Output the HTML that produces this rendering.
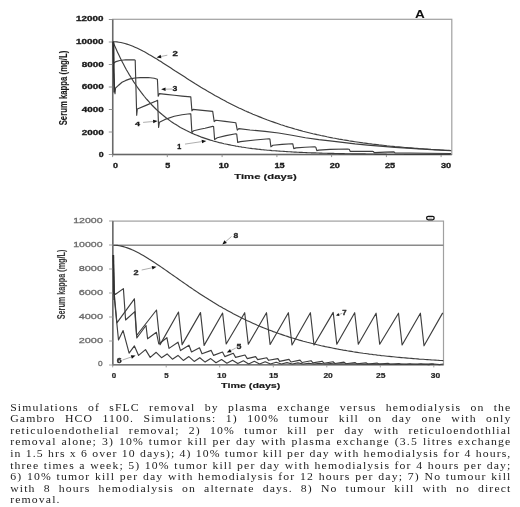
<!DOCTYPE html>
<html><head><meta charset="utf-8"><style>
html,body{margin:0;padding:0;background:#fff;}
body{width:520px;height:507px;overflow:hidden;}
svg{display:block;filter:blur(0.35px);}
.cap text{font-family:"Liberation Serif",serif;font-size:9.5px;fill:#1c1c1c;stroke:none;}
</style></head><body>
<svg width="520" height="507" viewBox="0 0 520 507">
<rect width="520" height="507" fill="#fff"/>
<rect x="112.7" y="19.3" width="339.1" height="135.2" fill="none" stroke="#a0a0a0" stroke-width="1.2"/>
<line x1="112.7" y1="19.3" x2="112.7" y2="155.1" stroke="#6a6a6a" stroke-width="1.5"/>
<line x1="112.10000000000001" y1="154.5" x2="451.8" y2="154.5" stroke="#666" stroke-width="1.4"/>
<line x1="108.8" y1="154.5" x2="112.7" y2="154.5" stroke="#888" stroke-width="0.9"/>
<line x1="108.8" y1="132.0" x2="112.7" y2="132.0" stroke="#888" stroke-width="0.9"/>
<line x1="108.8" y1="109.5" x2="112.7" y2="109.5" stroke="#888" stroke-width="0.9"/>
<line x1="108.8" y1="87.0" x2="112.7" y2="87.0" stroke="#888" stroke-width="0.9"/>
<line x1="108.8" y1="64.5" x2="112.7" y2="64.5" stroke="#888" stroke-width="0.9"/>
<line x1="108.8" y1="42.0" x2="112.7" y2="42.0" stroke="#888" stroke-width="0.9"/>
<line x1="108.8" y1="19.5" x2="112.7" y2="19.5" stroke="#888" stroke-width="0.9"/>
<line x1="112.6" y1="154.5" x2="112.6" y2="157.1" stroke="#888" stroke-width="0.9"/>
<line x1="167.3" y1="154.5" x2="167.3" y2="157.1" stroke="#888" stroke-width="0.9"/>
<line x1="222.1" y1="154.5" x2="222.1" y2="157.1" stroke="#888" stroke-width="0.9"/>
<line x1="276.9" y1="154.5" x2="276.9" y2="157.1" stroke="#888" stroke-width="0.9"/>
<line x1="331.6" y1="154.5" x2="331.6" y2="157.1" stroke="#888" stroke-width="0.9"/>
<line x1="386.4" y1="154.5" x2="386.4" y2="157.1" stroke="#888" stroke-width="0.9"/>
<line x1="441.1" y1="154.5" x2="441.1" y2="157.1" stroke="#888" stroke-width="0.9"/>
<text transform="translate(76.10,21.23) scale(1.448,1)" font-family="Liberation Sans" font-weight="bold" font-size="6.78" fill="#1a1a1a" stroke="#1a1a1a" stroke-width="0.3">12000</text>
<text transform="translate(76.10,43.91) scale(1.448,1)" font-family="Liberation Sans" font-weight="bold" font-size="6.78" fill="#1a1a1a" stroke="#1a1a1a" stroke-width="0.3">10000</text>
<text transform="translate(81.70,66.59) scale(1.458,1)" font-family="Liberation Sans" font-weight="bold" font-size="6.78" fill="#1a1a1a" stroke="#1a1a1a" stroke-width="0.3">8000</text>
<text transform="translate(81.70,89.27) scale(1.458,1)" font-family="Liberation Sans" font-weight="bold" font-size="6.78" fill="#1a1a1a" stroke="#1a1a1a" stroke-width="0.3">6000</text>
<text transform="translate(81.70,111.95) scale(1.458,1)" font-family="Liberation Sans" font-weight="bold" font-size="6.78" fill="#1a1a1a" stroke="#1a1a1a" stroke-width="0.3">4000</text>
<text transform="translate(81.70,134.63) scale(1.458,1)" font-family="Liberation Sans" font-weight="bold" font-size="6.78" fill="#1a1a1a" stroke="#1a1a1a" stroke-width="0.3">2000</text>
<text transform="translate(98.80,157.31) scale(1.300,1)" font-family="Liberation Sans" font-weight="bold" font-size="6.78" fill="#1a1a1a" stroke="#1a1a1a" stroke-width="0.3">0</text>
<text transform="translate(112.90,167.63) scale(1.326,1)" font-family="Liberation Sans" font-weight="bold" font-size="6.78" fill="#1a1a1a" stroke="#1a1a1a" stroke-width="0.3">0</text>
<text transform="translate(165.20,167.63) scale(1.308,1)" font-family="Liberation Sans" font-weight="bold" font-size="6.88" fill="#1a1a1a" stroke="#1a1a1a" stroke-width="0.3">5</text>
<text transform="translate(218.70,167.63) scale(1.353,1)" font-family="Liberation Sans" font-weight="bold" font-size="6.78" fill="#1a1a1a" stroke="#1a1a1a" stroke-width="0.3">10</text>
<text transform="translate(274.40,167.63) scale(1.334,1)" font-family="Liberation Sans" font-weight="bold" font-size="6.88" fill="#1a1a1a" stroke="#1a1a1a" stroke-width="0.3">15</text>
<text transform="translate(329.70,167.63) scale(1.353,1)" font-family="Liberation Sans" font-weight="bold" font-size="6.78" fill="#1a1a1a" stroke="#1a1a1a" stroke-width="0.3">20</text>
<text transform="translate(384.90,167.63) scale(1.353,1)" font-family="Liberation Sans" font-weight="bold" font-size="6.78" fill="#1a1a1a" stroke="#1a1a1a" stroke-width="0.3">25</text>
<text transform="translate(440.90,167.63) scale(1.355,1)" font-family="Liberation Sans" font-weight="bold" font-size="6.77" fill="#1a1a1a" stroke="#1a1a1a" stroke-width="0.3">30</text>
<text transform="translate(234.30,179.37) scale(1.444,1)" font-family="Liberation Sans" font-weight="bold" font-size="7.82" fill="#1a1a1a" stroke="#1a1a1a" stroke-width="0.15">Time (days)</text>
<text transform="translate(67.37,125.30) rotate(-90) scale(0.707,1)" font-family="Liberation Sans" font-weight="bold" font-size="10.99" fill="#1a1a1a" stroke="#1a1a1a" stroke-width="0.1">Serum kappa (mg/L)</text>
<text transform="translate(414.90,17.50) scale(1.229,1)" font-family="Liberation Sans" font-weight="bold" font-size="11.05" fill="#111">A</text>
<polyline points="112.9,41.7 114.9,41.8 116.9,41.9 118.9,42.2 120.9,42.5 122.9,43.0 124.9,43.5 126.9,44.1 128.9,44.8 130.9,45.5 132.9,46.3 134.9,47.2 136.9,48.1 138.9,49.0 140.9,50.0 142.9,51.1 144.9,52.1 146.9,53.2 148.9,54.4 150.9,55.5 152.9,56.7 154.9,57.9 156.9,59.1 158.9,60.4 160.9,61.6 162.9,62.9 164.9,64.2 166.9,65.5 168.9,66.8 170.9,68.1 172.9,69.4 174.9,70.7 176.9,71.9 178.9,73.2 180.9,74.5 182.9,75.8 184.9,77.1 186.9,78.4 188.9,79.7 190.9,80.9 192.9,82.2 194.9,83.5 196.9,84.7 198.9,85.9 200.9,87.2 202.9,88.4 204.9,89.6 206.9,90.8 208.9,91.9 210.9,93.1 212.9,94.2 214.9,95.4 216.9,96.5 218.9,97.6 220.9,98.7 222.9,99.8 224.9,100.8 226.9,101.9 228.9,102.9 230.9,103.9 232.9,104.9 234.9,105.9 236.9,106.9 238.9,107.9 240.9,108.8 242.9,109.7 244.9,110.7 246.9,111.6 248.9,112.4 250.9,113.3 252.9,114.2 254.9,115.0 256.9,115.8 258.9,116.6 260.9,117.4 262.9,118.2 264.9,119.0 266.9,119.8 268.9,120.5 270.9,121.2 272.9,121.9 274.9,122.6 276.9,123.3 278.9,124.0 280.9,124.7 282.9,125.3 284.9,126.0 286.9,126.6 288.9,127.2 290.9,127.8 292.9,128.4 294.9,129.0 296.9,129.5 298.9,130.1 300.9,130.6 302.9,131.2 304.9,131.7 306.9,132.2 308.9,132.7 310.9,133.2 312.9,133.7 314.9,134.1 316.9,134.6 318.9,135.0 320.9,135.5 322.9,135.9 324.9,136.3 326.9,136.8 328.9,137.2 330.9,137.6 332.9,138.0 334.9,138.3 336.9,138.7 338.9,139.1 340.9,139.4 342.9,139.8 344.9,140.1 346.9,140.4 348.9,140.8 350.9,141.1 352.9,141.4 354.9,141.7 356.9,142.0 358.9,142.3 360.9,142.6 362.9,142.9 364.9,143.1 366.9,143.4 368.9,143.7 370.9,143.9 372.9,144.2 374.9,144.4 376.9,144.6 378.9,144.9 380.9,145.1 382.9,145.3 384.9,145.5 386.9,145.8 388.9,146.0 390.9,146.2 392.9,146.4 394.9,146.6 396.9,146.7 398.9,146.9 400.9,147.1 402.9,147.3 404.9,147.5 406.9,147.6 408.9,147.8 410.9,147.9 412.9,148.1 414.9,148.3 416.9,148.4 418.9,148.6 420.9,148.7 422.9,148.8 424.9,149.0 426.9,149.1 428.9,149.2 430.9,149.4 432.9,149.5 434.9,149.6 436.9,149.7 438.9,149.8 440.9,150.0 442.9,150.1 444.9,150.2 446.9,150.3 448.9,150.4 450.9,150.5" fill="none" stroke="#3e3e3e" stroke-width="1.15" stroke-linejoin="round" />
<polyline points="112.9,41.7 114.4,45.2 115.9,48.6 117.4,51.9 118.9,55.1 120.4,58.2 121.9,61.2 123.4,64.1 124.9,66.9 126.4,69.7 127.9,72.3 129.4,74.9 130.9,77.3 132.4,79.7 133.9,82.1 135.4,84.3 136.9,86.5 138.4,88.6 139.9,90.7 141.4,92.7 142.9,94.6 144.4,96.5 145.9,98.3 147.4,100.0 148.9,101.7 150.4,103.4 151.9,105.0 153.4,106.5 154.9,108.0 156.4,109.5 157.9,110.9 159.4,112.2 160.9,113.5 162.4,114.8 163.9,116.0 165.4,117.2 166.9,118.4 168.4,119.5 169.9,120.6 171.4,121.7 172.9,122.7 174.4,123.7 175.9,124.6 177.4,125.6 178.9,126.5 180.4,127.4 181.9,128.2 183.4,129.0 184.9,129.8 186.4,130.6 187.9,131.3 189.4,132.0 190.9,132.7 192.4,133.4 193.9,134.1 195.4,134.7 196.9,135.3 198.4,135.9 199.9,136.5 201.4,137.1 202.9,137.6 204.4,138.1 205.9,138.6 207.4,139.1 208.9,139.6 210.4,140.1 211.9,140.5 213.4,141.0 214.9,141.4 216.4,141.8 217.9,142.2 219.4,142.6 220.9,142.9 222.4,143.3 223.9,143.7 225.4,144.0 226.9,144.3 228.4,144.6 229.9,144.9 231.4,145.2 232.9,145.5 234.4,145.8 235.9,146.1 237.4,146.3 238.9,146.6 240.4,146.8 241.9,147.1 243.4,147.3 244.9,147.5 246.4,147.8 247.9,148.0 249.4,148.2 250.9,148.4 252.4,148.6 253.9,148.7 255.4,148.9 256.9,149.1 258.4,149.3 259.9,149.4 261.4,149.6 262.9,149.7 264.4,149.9 265.9,150.0 267.4,150.2 268.9,150.3 270.4,150.4 271.9,150.6 273.4,150.7 274.9,150.8 276.4,150.9 277.9,151.0 279.4,151.1 280.9,151.2 282.4,151.3 283.9,151.4 285.4,151.5 286.9,151.6 288.4,151.7 289.9,151.8 291.4,151.9 292.9,152.0 294.4,152.1 295.9,152.1 297.4,152.2 298.9,152.3 300.4,152.3 301.9,152.4 303.4,152.5 304.9,152.5 306.4,152.6 307.9,152.7 309.4,152.7 310.9,152.8 312.4,152.8 313.9,152.9 315.4,152.9 316.9,153.0 318.4,153.0 319.9,153.1 321.4,153.1 322.9,153.2 324.4,153.2 325.9,153.2 327.4,153.3 328.9,153.3 330.4,153.4 331.9,153.4 333.4,153.4 334.9,153.5 336.4,153.5 337.9,153.5 339.4,153.6 340.9,153.6 342.4,153.6 343.9,153.6 345.4,153.7 346.9,153.7 348.4,153.7 349.9,153.7 351.4,153.8 352.9,153.8 354.4,153.8 355.9,153.8 357.4,153.9 358.9,153.9 360.4,153.9 361.9,153.9 363.4,153.9 364.9,153.9 366.4,154.0 367.9,154.0 369.4,154.0 370.9,154.0 372.4,154.0 373.9,154.0 375.4,154.1 376.9,154.1 378.4,154.1 379.9,154.1 381.4,154.1 382.9,154.1 384.4,154.1 385.9,154.1 387.4,154.2 388.9,154.2 390.4,154.2 391.9,154.2 393.4,154.2 394.9,154.2 396.4,154.2 397.9,154.2 399.4,154.2 400.9,154.2 402.4,154.2 403.9,154.3 405.4,154.3 406.9,154.3 408.4,154.3 409.9,154.3 411.4,154.3 412.9,154.3 414.4,154.3 415.9,154.3 417.4,154.3 418.9,154.3 420.4,154.3 421.9,154.3 423.4,154.3 424.9,154.3 426.4,154.3 427.9,154.4 429.4,154.4 430.9,154.4 432.4,154.4 433.9,154.4 435.4,154.4 436.9,154.4 438.4,154.4 439.9,154.4 441.4,154.4 442.9,154.4 444.4,154.4 445.9,154.4 447.4,154.4 448.9,154.4 450.4,154.4" fill="none" stroke="#3e3e3e" stroke-width="1.15" stroke-linejoin="round" />
<polyline points="112.9,41.7 113.4,70.0 115.0,93.7 115.5,88.2 117.9,85.9 118.6,85.2 122.0,82.2 125.8,80.4 130.0,78.9 135.0,78.0 140.4,77.6 148.1,77.5 154.2,78.3 157.4,79.3 158.2,96.2 159.4,93.6 166.0,94.4 174.3,95.3 182.0,96.1 190.8,96.9 191.9,110.8 193.0,109.4 200.0,110.1 205.0,110.6 212.7,111.4 214.2,121.6 215.8,120.3 225.0,121.4 235.8,122.7 237.3,130.2 238.8,128.6 250.0,130.0 265.0,131.4 278.5,133.0 291.9,135.3 305.4,137.7 318.8,139.6 330.0,140.9 342.5,142.4 355.0,143.9 367.5,145.1 380.0,146.1 395.0,147.4 415.0,148.6 440.0,150.1 451.3,150.7" fill="none" stroke="#3e3e3e" stroke-width="1.15" stroke-linejoin="round" />
<polyline points="112.9,41.7 113.6,63.2 116.0,61.6 119.8,60.5 125.8,59.8 134.6,59.9 135.2,60.2 136.7,115.3 137.3,109.0 146.0,105.4 156.1,101.0 157.6,100.3 158.6,127.4 159.4,122.2 165.0,119.4 174.3,116.2 182.0,114.7 189.8,113.8 190.8,113.9 191.9,132.6 193.7,130.7 200.0,129.3 205.0,128.3 212.7,126.4 213.6,126.5 214.6,139.4 217.3,137.8 226.0,135.6 235.8,133.8 236.7,134.0 237.7,142.4 240.4,141.6 255.0,140.0 269.0,138.7 269.9,139.0 270.9,146.8 273.0,145.2 282.0,144.4 291.9,143.7 292.8,143.9 293.8,148.6 296.0,147.9 305.0,147.2 314.8,146.8 315.8,147.2 316.8,150.6 318.8,150.1 330.0,149.4 347.5,149.0 349.2,149.2 350.3,151.4 360.0,151.4 372.5,151.3 373.3,151.5 374.3,152.6 385.0,152.1 394.0,151.9 395.0,152.9 410.0,153.0 427.5,153.2 451.0,153.5" fill="none" stroke="#3e3e3e" stroke-width="1.15" stroke-linejoin="round" />
<line x1="113.6" y1="41.7" x2="114.2" y2="92.5" stroke="#2e2e2e" stroke-width="1.5"/>
<text transform="translate(172.50,56.40) scale(1.356,1)" font-family="Liberation Sans" font-weight="bold" font-size="7.16" fill="#1a1a1a" stroke="#1a1a1a" stroke-width="0.3">2</text>
<line x1="167.3" y1="55.2" x2="161.0" y2="56.5" stroke="#999" stroke-width="0.8"/><polygon points="156.6,57.4 160.6,54.7 161.4,58.3" fill="#111"/>
<text transform="translate(172.50,91.32) scale(1.200,1)" font-family="Liberation Sans" font-weight="bold" font-size="7.19" fill="#1a1a1a" stroke="#1a1a1a" stroke-width="0.3">3</text>
<line x1="172.0" y1="89.0" x2="165.6" y2="89.2" stroke="#999" stroke-width="0.8"/><polygon points="161.1,89.3 165.5,87.4 165.6,91.0" fill="#111"/>
<text transform="translate(134.90,126.30) scale(1.439,1)" font-family="Liberation Sans" font-weight="bold" font-size="6.25" fill="#1a1a1a" stroke="#1a1a1a" stroke-width="0.3">4</text>
<line x1="143.1" y1="122.4" x2="153.1" y2="121.5" stroke="#999" stroke-width="0.8"/><polygon points="157.6,121.1 153.3,123.3 153.0,119.7" fill="#111"/>
<text transform="translate(177.30,148.90) scale(0.934,1)" font-family="Liberation Sans" font-weight="bold" font-size="7.70" fill="#1a1a1a" stroke="#1a1a1a" stroke-width="0.35">1</text>
<line x1="185.0" y1="144.1" x2="201.8" y2="141.6" stroke="#999" stroke-width="0.8"/><polygon points="206.3,140.9 202.1,143.3 201.6,139.8" fill="#111"/>
<rect x="112.8" y="221.1" width="330.7" height="143.70000000000002" fill="none" stroke="#a0a0a0" stroke-width="1.2"/>
<line x1="112.8" y1="221.1" x2="112.8" y2="365.40000000000003" stroke="#6a6a6a" stroke-width="1.5"/>
<line x1="112.2" y1="364.8" x2="443.5" y2="364.8" stroke="#777" stroke-width="1.4"/>
<line x1="109.0" y1="365.0" x2="112.8" y2="365.0" stroke="#999" stroke-width="0.9"/>
<line x1="109.0" y1="341.0" x2="112.8" y2="341.0" stroke="#999" stroke-width="0.9"/>
<line x1="109.0" y1="317.0" x2="112.8" y2="317.0" stroke="#999" stroke-width="0.9"/>
<line x1="109.0" y1="293.0" x2="112.8" y2="293.0" stroke="#999" stroke-width="0.9"/>
<line x1="109.0" y1="269.0" x2="112.8" y2="269.0" stroke="#999" stroke-width="0.9"/>
<line x1="109.0" y1="245.0" x2="112.8" y2="245.0" stroke="#999" stroke-width="0.9"/>
<line x1="109.0" y1="221.0" x2="112.8" y2="221.0" stroke="#999" stroke-width="0.9"/>
<line x1="112.7" y1="364.8" x2="112.7" y2="367.40000000000003" stroke="#999" stroke-width="0.9"/>
<line x1="166.2" y1="364.8" x2="166.2" y2="367.40000000000003" stroke="#999" stroke-width="0.9"/>
<line x1="219.7" y1="364.8" x2="219.7" y2="367.40000000000003" stroke="#999" stroke-width="0.9"/>
<line x1="273.3" y1="364.8" x2="273.3" y2="367.40000000000003" stroke="#999" stroke-width="0.9"/>
<line x1="326.8" y1="364.8" x2="326.8" y2="367.40000000000003" stroke="#999" stroke-width="0.9"/>
<line x1="380.3" y1="364.8" x2="380.3" y2="367.40000000000003" stroke="#999" stroke-width="0.9"/>
<line x1="433.8" y1="364.8" x2="433.8" y2="367.40000000000003" stroke="#999" stroke-width="0.9"/>
<text transform="translate(73.20,223.02) scale(1.337,1)" font-family="Liberation Sans" font-weight="normal" font-size="7.91" fill="#6a6a6a" stroke="#6a6a6a" stroke-width="0.3">12000</text>
<text transform="translate(73.20,246.92) scale(1.337,1)" font-family="Liberation Sans" font-weight="normal" font-size="7.91" fill="#6a6a6a" stroke="#6a6a6a" stroke-width="0.3">10000</text>
<text transform="translate(78.70,270.82) scale(1.381,1)" font-family="Liberation Sans" font-weight="normal" font-size="7.91" fill="#6a6a6a" stroke="#6a6a6a" stroke-width="0.3">8000</text>
<text transform="translate(78.70,294.72) scale(1.381,1)" font-family="Liberation Sans" font-weight="normal" font-size="7.91" fill="#6a6a6a" stroke="#6a6a6a" stroke-width="0.3">6000</text>
<text transform="translate(78.70,318.62) scale(1.381,1)" font-family="Liberation Sans" font-weight="normal" font-size="7.91" fill="#6a6a6a" stroke="#6a6a6a" stroke-width="0.3">4000</text>
<text transform="translate(78.70,342.52) scale(1.381,1)" font-family="Liberation Sans" font-weight="normal" font-size="7.91" fill="#6a6a6a" stroke="#6a6a6a" stroke-width="0.3">2000</text>
<text transform="translate(98.00,366.42) scale(1.046,1)" font-family="Liberation Sans" font-weight="normal" font-size="7.91" fill="#6a6a6a" stroke="#6a6a6a" stroke-width="0.3">0</text>
<text transform="translate(111.80,377.64) scale(1.218,1)" font-family="Liberation Sans" font-weight="bold" font-size="6.50" fill="#262626" stroke="#262626" stroke-width="0.2">0</text>
<text transform="translate(164.30,377.63) scale(1.201,1)" font-family="Liberation Sans" font-weight="bold" font-size="6.59" fill="#262626" stroke="#262626" stroke-width="0.2">5</text>
<text transform="translate(217.00,377.64) scale(1.301,1)" font-family="Liberation Sans" font-weight="bold" font-size="6.50" fill="#262626" stroke="#262626" stroke-width="0.2">10</text>
<text transform="translate(268.90,377.63) scale(1.283,1)" font-family="Liberation Sans" font-weight="bold" font-size="6.59" fill="#262626" stroke="#262626" stroke-width="0.2">15</text>
<text transform="translate(323.40,377.64) scale(1.301,1)" font-family="Liberation Sans" font-weight="bold" font-size="6.50" fill="#262626" stroke="#262626" stroke-width="0.2">20</text>
<text transform="translate(376.10,377.64) scale(1.301,1)" font-family="Liberation Sans" font-weight="bold" font-size="6.50" fill="#262626" stroke="#262626" stroke-width="0.2">25</text>
<text transform="translate(430.70,377.63) scale(1.303,1)" font-family="Liberation Sans" font-weight="bold" font-size="6.49" fill="#262626" stroke="#262626" stroke-width="0.2">30</text>
<text transform="translate(221.10,387.91) scale(1.493,1)" font-family="Liberation Sans" font-weight="bold" font-size="7.18" fill="#1a1a1a" stroke="#1a1a1a" stroke-width="0.15">Time (days)</text>
<text transform="translate(64.74,319.30) rotate(-90) scale(0.681,1)" font-family="Liberation Sans" font-weight="bold" font-size="10.67" fill="#3a3a3a" stroke="#3a3a3a" stroke-width="0.1">Serum kappa (mg/L)</text>
<rect x="426.6" y="216.4" width="7.6" height="3.4" rx="1.7" fill="none" stroke="#111" stroke-width="1.3"/>
<line x1="428.5" y1="218.1" x2="432.3" y2="218.1" stroke="#555" stroke-width="0.6"/>
<line x1="112.8" y1="245.2" x2="443.5" y2="245.2" stroke="#8a8a8a" stroke-width="1.5"/>
<polyline points="113.3,245.2 115.3,245.3 117.3,245.4 119.3,245.7 121.3,246.1 123.3,246.6 125.3,247.2 127.3,247.9 129.3,248.6 131.3,249.4 133.3,250.3 135.3,251.3 137.3,252.3 139.3,253.3 141.3,254.4 143.3,255.5 145.3,256.7 147.3,257.9 149.3,259.2 151.3,260.4 153.3,261.7 155.3,263.1 157.3,264.4 159.3,265.7 161.3,267.1 163.3,268.5 165.3,269.9 167.3,271.3 169.3,272.7 171.3,274.1 173.3,275.5 175.3,276.9 177.3,278.3 179.3,279.7 181.3,281.1 183.3,282.5 185.3,283.9 187.3,285.3 189.3,286.7 191.3,288.0 193.3,289.4 195.3,290.7 197.3,292.1 199.3,293.4 201.3,294.7 203.3,296.0 205.3,297.3 207.3,298.5 209.3,299.8 211.3,301.0 213.3,302.3 215.3,303.5 217.3,304.7 219.3,305.9 221.3,307.0 223.3,308.2 225.3,309.3 227.3,310.4 229.3,311.5 231.3,312.6 233.3,313.7 235.3,314.7 237.3,315.7 239.3,316.8 241.3,317.8 243.3,318.7 245.3,319.7 247.3,320.7 249.3,321.6 251.3,322.5 253.3,323.4 255.3,324.3 257.3,325.2 259.3,326.0 261.3,326.9 263.3,327.7 265.3,328.5 267.3,329.3 269.3,330.1 271.3,330.8 273.3,331.6 275.3,332.3 277.3,333.0 279.3,333.7 281.3,334.4 283.3,335.1 285.3,335.8 287.3,336.4 289.3,337.1 291.3,337.7 293.3,338.3 295.3,338.9 297.3,339.5 299.3,340.1 301.3,340.6 303.3,341.2 305.3,341.7 307.3,342.3 309.3,342.8 311.3,343.3 313.3,343.8 315.3,344.3 317.3,344.8 319.3,345.2 321.3,345.7 323.3,346.1 325.3,346.6 327.3,347.0 329.3,347.4 331.3,347.8 333.3,348.2 335.3,348.6 337.3,349.0 339.3,349.4 341.3,349.7 343.3,350.1 345.3,350.4 347.3,350.8 349.3,351.1 351.3,351.4 353.3,351.8 355.3,352.1 357.3,352.4 359.3,352.7 361.3,353.0 363.3,353.3 365.3,353.5 367.3,353.8 369.3,354.1 371.3,354.3 373.3,354.6 375.3,354.8 377.3,355.1 379.3,355.3 381.3,355.6 383.3,355.8 385.3,356.0 387.3,356.2 389.3,356.4 391.3,356.6 393.3,356.8 395.3,357.0 397.3,357.2 399.3,357.4 401.3,357.6 403.3,357.8 405.3,357.9 407.3,358.1 409.3,358.3 411.3,358.4 413.3,358.6 415.3,358.8 417.3,358.9 419.3,359.1 421.3,359.2 423.3,359.3 425.3,359.5 427.3,359.6 429.3,359.7 431.3,359.9 433.3,360.0 435.3,360.1 437.3,360.2 439.3,360.4 441.3,360.5 443.3,360.6" fill="none" stroke="#3e3e3e" stroke-width="1.15" stroke-linejoin="round" />
<polyline points="113.2,255.0 113.6,293.5 114.3,294.0 116.9,322.8 134.4,298.8 136.6,335.5 156.5,310.0 160.1,344.6 178.5,312.0 182.1,344.6 200.5,312.6 204.1,345.4 222.6,313.0 226.2,344.0 244.7,312.7 248.3,344.2 266.5,312.7 270.1,344.5 288.4,312.7 292.0,345.0 310.4,312.7 314.0,345.0 333.2,312.4 336.8,344.2 354.7,312.7 358.3,344.2 376.1,313.2 379.7,344.2 398.5,313.2 402.1,345.0 420.4,313.2 424.0,345.8 442.7,312.9" fill="none" stroke="#3e3e3e" stroke-width="1.15" stroke-linejoin="round" />
<polyline points="113.2,255.0 113.8,292.0 115.2,294.5 123.4,288.6 125.6,320.0 134.8,311.6 136.8,338.0 146.0,325.5 147.6,338.8 156.4,332.3 158.8,344.0 166.9,337.7 169.0,348.4 178.0,342.2 180.5,350.6 189.0,345.2 191.5,352.0 199.5,347.8 202.0,353.8 211.2,350.4 213.6,355.4 222.5,352.0 224.8,356.6 233.3,353.3 235.6,357.4 245.0,355.0 247.3,358.6 255.6,356.6 257.7,359.6 266.8,357.8 268.6,360.3 277.9,358.6 279.6,361.4 289.0,359.4 291.0,362.0 300.0,360.1 302.0,362.5 311.0,360.7 313.0,362.9 322.0,361.2 324.0,363.2 333.0,361.7 335.0,363.5 344.0,362.1 346.0,363.7 355.0,362.5 357.0,363.9 366.0,362.8 368.0,364.0 377.0,363.1 379.0,364.1 388.0,363.3 390.0,364.2 399.0,363.5 401.0,364.3 410.0,363.7 412.0,364.3 421.0,363.8 423.0,364.4 432.0,363.9 434.0,364.4" fill="none" stroke="#3e3e3e" stroke-width="1.15" stroke-linejoin="round" />
<polyline points="113.2,255.0 114.5,300.0 116.0,315.0 118.5,340.0 123.1,330.6 129.1,353.2 134.4,345.9 138.6,355.4 145.5,349.6 150.2,357.4 156.2,352.3 161.5,357.7 167.1,353.9 172.4,359.2 178.0,355.4 183.3,360.4 188.9,356.6 194.2,361.4 199.8,357.7 205.1,362.1 210.7,358.6 216.0,362.7 221.6,359.5 226.9,363.2 232.5,360.2 237.8,363.6 243.4,360.8 248.7,363.9 254.3,361.3 259.6,364.0 265.2,361.8 270.5,364.0 276.1,362.2 281.4,364.0 287.0,362.6 292.3,364.0 297.9,362.9 303.2,364.0 308.8,363.2 314.1,364.0 319.7,363.4 325.0,364.0 330.6,363.6 335.9,364.0 341.5,363.8 346.8,364.0 352.4,363.9 357.7,364.0 363.3,364.1 368.6,364.0 374.2,364.2 379.5,364.0 385.1,364.3 390.4,364.0 396.0,364.4 401.3,364.0 406.9,364.5 412.2,364.0 417.8,364.5 423.1,364.0 428.7,364.6 434.0,364.0 439.6,364.6 443.3,364.0" fill="none" stroke="#3e3e3e" stroke-width="1.15" stroke-linejoin="round" />
<line x1="113.5" y1="255" x2="114.2" y2="300" stroke="#2e2e2e" stroke-width="1.4"/>
<text transform="translate(233.45,237.68) scale(1.174,1)" font-family="Liberation Sans" font-weight="bold" font-size="7.20" fill="#2a2a2a" stroke="#2a2a2a" stroke-width="0.3">8</text>
<line x1="231.5" y1="236.5" x2="225.7" y2="241.6" stroke="#999" stroke-width="0.8"/><polygon points="222.3,244.6 224.5,240.3 226.9,243.0" fill="#111"/>
<text transform="translate(133.55,274.55) scale(1.143,1)" font-family="Liberation Sans" font-weight="bold" font-size="8.02" fill="#2a2a2a" stroke="#2a2a2a" stroke-width="0.3">2</text>
<line x1="141.7" y1="270.0" x2="152.1" y2="267.8" stroke="#999" stroke-width="0.8"/><polygon points="156.5,266.8 152.5,269.5 151.7,266.0" fill="#111"/>
<text transform="translate(342.15,315.15) scale(1.157,1)" font-family="Liberation Sans" font-weight="bold" font-size="6.69" fill="#2a2a2a" stroke="#2a2a2a" stroke-width="0.3">7</text>
<line x1="342.3" y1="313.3" x2="339.0" y2="314.5" stroke="#999" stroke-width="0.8"/><polygon points="336.0,315.6 338.5,313.1 339.5,315.9" fill="#111"/>
<text transform="translate(236.45,349.18) scale(1.206,1)" font-family="Liberation Sans" font-weight="bold" font-size="7.31" fill="#2a2a2a" stroke="#2a2a2a" stroke-width="0.3">5</text>
<line x1="235.8" y1="348.0" x2="230.8" y2="350.6" stroke="#999" stroke-width="0.8"/><polygon points="226.8,352.6 230.0,348.9 231.6,352.2" fill="#111"/>
<text transform="translate(116.85,363.09) scale(1.387,1)" font-family="Liberation Sans" font-weight="bold" font-size="6.36" fill="#2a2a2a" stroke="#2a2a2a" stroke-width="0.3">6</text>
<line x1="122.5" y1="360.0" x2="131.3" y2="357.0" stroke="#999" stroke-width="0.8"/><polygon points="135.6,355.6 131.9,358.7 130.8,355.3" fill="#111"/>
<g class="cap">
<text transform="translate(10.20,410.50) scale(1.24,1)" style="letter-spacing:0.9px;word-spacing:4.182px">Simulations of sFLC removal by plasma exchange versus hemodialysis on the</text>
<text transform="translate(10.20,422.10) scale(1.24,1)" style="letter-spacing:0.9px;word-spacing:4.330px">Gambro HCO 1100. Simulations: 1) 100% tumour kill on day one with only</text>
<text transform="translate(10.20,433.70) scale(1.24,1)" style="letter-spacing:0.9px;word-spacing:4.180px">reticuloendothelial removal; 2) 10% tumor kill per day with reticuloendothlial</text>
<text transform="translate(10.20,445.30) scale(1.24,1)" style="letter-spacing:0.9px;word-spacing:0.731px">removal alone; 3) 10% tumor kill per day with plasma exchange (3.5 litres exchange</text>
<text transform="translate(10.20,456.90) scale(1.24,1)" style="letter-spacing:0.9px;word-spacing:0.090px">in 1.5 hrs x 6 over 10 days); 4) 10% tumor kill per day with hemodialysis for 4 hours,</text>
<text transform="translate(10.20,468.50) scale(1.24,1)" style="letter-spacing:0.9px;word-spacing:0.348px">three times a week; 5) 10% tumor kill per day with hemodialysis for 4 hours per day;</text>
<text transform="translate(10.20,480.10) scale(1.24,1)" style="letter-spacing:0.9px;word-spacing:0.534px">6) 10% tumor kill per day with hemodialysis for 12 hours per day; 7) No tumour kill</text>
<text transform="translate(10.20,491.70) scale(1.24,1)" style="letter-spacing:0.9px;word-spacing:3.224px">with 8 hours hemodialysis on alternate days. 8) No tumour kill with no direct</text>
<text transform="translate(10.20,503.30) scale(1.24,1)" style="letter-spacing:0.9px;word-spacing:0.000px">removal.</text>
</g>
</svg>
</body></html>
